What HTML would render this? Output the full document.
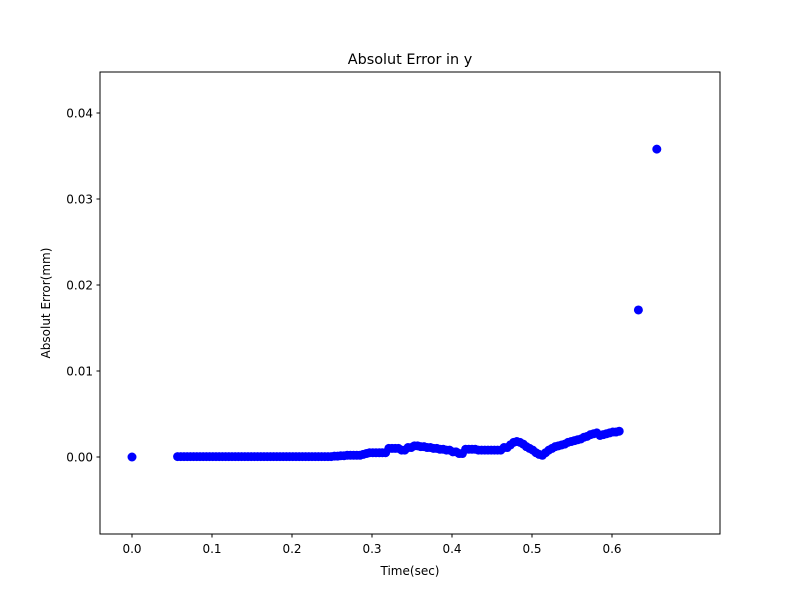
<!DOCTYPE html>
<html><head><meta charset="utf-8"><style>
body{margin:0;background:#fff;font-family:"Liberation Sans","DejaVu Sans",sans-serif}
svg text{font-family:"DejaVu Sans","Liberation Sans",sans-serif;fill:#000}
</style></head><body>
<svg id="c" width="800" height="600">
<rect width="800" height="600" fill="#fff"/>
<text x="410" y="64" font-size="14.4" text-anchor="middle">Absolut Error in y</text>
<text x="410" y="575" font-size="12" text-anchor="middle">Time(sec)</text>
<text x="50" y="303" font-size="12" text-anchor="middle" transform="rotate(-90 50 303)">Absolut Error(mm)</text>
<g id="marks"></g>
<g id="axes"></g>
<rect x="100" y="72" width="620" height="462" fill="none" stroke="#000" stroke-width="1"/>
</svg>
<script>
const times=[0.000,
0.057,0.061,0.065,0.069,0.073,0.077,0.081,0.085,0.089,0.093,0.097,0.101,0.105,0.109,0.113,0.117,0.121,0.125,0.129,0.133,0.137,0.141,0.145,0.149,0.153,0.157,0.161,0.165,0.169,0.173,0.177,0.181,0.185,0.189,0.193,0.197,0.201,0.205,0.209,0.213,0.217,0.221,0.225,0.229,0.233,0.237,0.241,0.245,0.249,
0.253,0.257,0.261,0.265,0.269,0.273,0.277,0.281,0.285,0.289,0.293,0.297,0.301,0.305,0.309,0.313,0.317,0.321,0.325,0.329,0.333,0.337,0.341,0.345,0.349,0.353,0.357,
0.361,0.365,0.369,0.373,0.377,0.381,0.385,0.389,0.393,0.397,0.401,0.405,0.409,0.413,
0.417,0.421,0.425,0.429,0.433,0.437,0.441,0.445,0.449,0.453,0.457,0.461,
0.465,0.469,0.473,0.477,0.481,0.485,0.489,0.493,0.497,0.501,0.505,0.509,0.513,0.517,
0.521,0.525,0.529,0.533,0.537,0.541,0.545,0.549,0.553,0.557,0.561,0.565,0.569,0.573,0.577,0.581,0.585,0.589,0.593,0.597,0.601,0.605,0.609,
0.633,0.656];
const errors=[0,
0.00005,0.00005,0.00005,0.00005,0.00005,0.00005,0.00005,0.00005,0.00005,0.00005,0.00005,0.00005,0.00005,0.00005,0.00005,0.00005,0.00005,0.00005,0.00005,0.00005,0.00005,0.00005,0.00005,0.00005,0.00005,0.00005,0.00005,0.00005,0.00005,0.00005,0.00005,0.00005,0.00005,0.00005,0.00005,0.00005,0.00005,0.00005,0.00005,0.00005,0.00005,0.00005,0.00005,0.00005,0.00005,0.00005,0.00005,0.00005,0.00005,
0.0001,0.0001,0.00015,0.00015,0.0002,0.0002,0.0002,0.0002,0.0002,0.0003,0.0004,0.0005,0.0005,0.0005,0.0005,0.0005,0.0005,0.0010,0.0010,0.0010,0.0010,0.0008,0.0008,0.0011,0.0011,0.0013,0.0013,
0.0012,0.0012,0.0011,0.0011,0.0010,0.0010,0.0009,0.0009,0.0008,0.0008,0.0006,0.0006,0.0004,0.0004,
0.0009,0.0009,0.0009,0.0009,0.0008,0.0008,0.0008,0.0008,0.0008,0.0008,0.0008,0.0008,
0.0011,0.0011,0.0014,0.0017,0.0018,0.0017,0.0015,0.0012,0.0010,0.0008,0.0005,0.0003,0.0002,0.0005,
0.0008,0.0010,0.0012,0.0013,0.0014,0.0015,0.0017,0.0018,0.0019,0.0020,0.0021,0.0023,0.0024,0.0026,0.0027,0.0028,0.0025,0.0026,0.0027,0.0028,0.0029,0.0029,0.0030,
0.0171,0.0358];
const xTicks=[0.0,0.1,0.2,0.3,0.4,0.5,0.6];
const xTickLabels=["0.0","0.1","0.2","0.3","0.4","0.5","0.6"];
const yTicks=[0.00,0.01,0.02,0.03,0.04];
const yTickLabels=["0.00","0.01","0.02","0.03","0.04"];
const NS="http://www.w3.org/2000/svg";
const X=v=>132+v*800;
const Y=v=>457-v*8600;
const marks=document.getElementById('marks'),axes=document.getElementById('axes');
times.forEach((t,i)=>{
 const c=document.createElementNS(NS,'circle');
 c.setAttribute('cx',X(t));c.setAttribute('cy',Y(errors[i]));c.setAttribute('r',4.5);c.setAttribute('fill','#0000ff');
 
 
 marks.appendChild(c);
});
xTicks.forEach((v,i)=>{
 const l=document.createElementNS(NS,'line');
 l.setAttribute('x1',X(v));l.setAttribute('x2',X(v));l.setAttribute('y1',534);l.setAttribute('y2',537.5);l.setAttribute('stroke','#000');
 
 
 axes.appendChild(l);
 const t=document.createElementNS(NS,'text');
 t.setAttribute('x',X(v));t.setAttribute('y',553);t.setAttribute('font-size','12');t.setAttribute('text-anchor','middle');
 t.textContent=xTickLabels[i];
 
 
 axes.appendChild(t);
});
yTicks.forEach((v,i)=>{
 const l=document.createElementNS(NS,'line');
 l.setAttribute('x1',96.5);l.setAttribute('x2',100);l.setAttribute('y1',Y(v));l.setAttribute('y2',Y(v));l.setAttribute('stroke','#000');
 
 
 axes.appendChild(l);
 const t=document.createElementNS(NS,'text');
 t.setAttribute('x',93);t.setAttribute('y',Y(v)+4.5);t.setAttribute('font-size','12');t.setAttribute('text-anchor','end');
 t.textContent=yTickLabels[i];
 
 
 axes.appendChild(t);
});
</script>
</body></html>
